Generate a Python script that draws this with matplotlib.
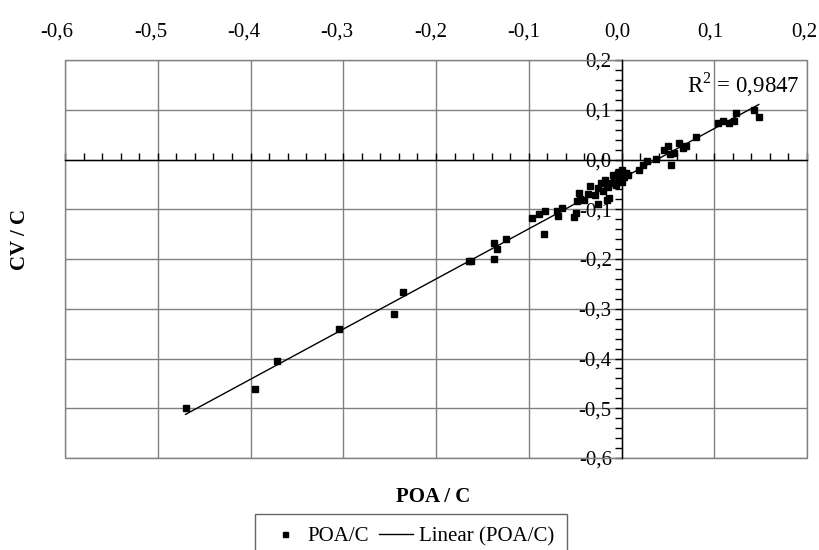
import matplotlib
matplotlib.use("Agg")
import matplotlib.pyplot as plt
import numpy as np
from matplotlib.patches import Rectangle
from matplotlib.ticker import FuncFormatter, MultipleLocator

# POA/C (x) and CV/C (y) values
poa = [
    -0.470, -0.395, -0.371, -0.305, -0.245, -0.236, -0.164, -0.162, -0.138,
    -0.134, -0.125, -0.137, -0.096, -0.089, -0.083, -0.070, -0.068, -0.084,
    -0.064, -0.051, -0.049, -0.048, -0.046, -0.045, -0.040, -0.036, -0.034,
    -0.029, -0.025, -0.025, -0.022, -0.020, -0.018, -0.016, -0.015, -0.013,
    -0.011, -0.009, -0.008, -0.006, -0.004, -0.002, 0.000, 0.001, 0.003,
    0.005, 0.007, 0.019, 0.023, 0.027, 0.037, 0.046, 0.050, 0.052, 0.057,
    0.053, 0.062, 0.066, 0.070, 0.080, 0.104, 0.109, 0.116, 0.121, 0.123,
    0.143, 0.148,
]
cv = [
    -0.500, -0.461, -0.405, -0.340, -0.311, -0.266, -0.204, -0.205, -0.168,
    -0.180, -0.159, -0.200, -0.117, -0.109, -0.103, -0.103, -0.113, -0.150,
    -0.097, -0.115, -0.107, -0.083, -0.068, -0.080, -0.081, -0.070, -0.053,
    -0.071, -0.089, -0.058, -0.048, -0.063, -0.041, -0.081, -0.055, -0.078,
    -0.048, -0.031, -0.038, -0.051, -0.028, -0.041, -0.045, -0.021, -0.035,
    -0.028, -0.032, -0.021, -0.011, -0.004, 0.002, 0.019, 0.027, 0.012, 0.014,
    -0.011, 0.034, 0.024, 0.027, 0.046, 0.074, 0.078, 0.074, 0.077, 0.093,
    0.099, 0.085,
]
r2_label = "R$^2$ = 0,9847"

plt.rcParams["font.family"] = ["Liberation Serif", "DejaVu Serif"]
plt.rcParams["font.size"] = 15
plt.rcParams["mathtext.fontset"] = "custom"
plt.rcParams["mathtext.rm"] = "Liberation Serif"

GRID = "#808080"
W, H = 819, 550


def comma(v, _pos=None):
    if abs(v) < 1e-9:
        v = 0.0
    return f"{v:.1f}".replace(".", ",")


fig = plt.figure(figsize=(W / 100, H / 100), dpi=100)
ax = fig.add_axes([65 / W, 1 - 458 / H, 742 / W, 398 / H])

x = np.array(poa)
y = np.array(cv)
slope, intercept = np.polyfit(x, y, 1)
xs = np.array([x.min(), x.max()])

ax.plot(x, y, "s", color="black", ms=4, label="POA/C", zorder=4)
ax.plot(xs, slope * xs + intercept, color="black", lw=1, label="Linear (POA/C)", zorder=3)

ax.set_xlim(-0.6, 0.2)
ax.set_ylim(-0.6, 0.2)
ax.xaxis.set_major_locator(MultipleLocator(0.1))
ax.yaxis.set_major_locator(MultipleLocator(0.1))
ax.xaxis.set_minor_locator(MultipleLocator(0.02))
ax.yaxis.set_minor_locator(MultipleLocator(0.02))
ax.grid(True, which="major", color=GRID, lw=1)
ax.set_axisbelow(True)

ax.spines["left"].set_position(("data", 0))
ax.spines["bottom"].set_position(("data", 0))
ax.spines["top"].set_visible(False)
ax.spines["right"].set_visible(False)
for s in ("left", "bottom"):
    ax.spines[s].set_linewidth(1)
    ax.spines[s].set_zorder(2)

ax.tick_params(axis="x", which="both", direction="in", length=5, width=1,
               labelbottom=False)
ax.tick_params(axis="y", which="both", direction="out", length=5, width=1, pad=2)
ax.yaxis.set_major_formatter(FuncFormatter(comma))

ax.add_patch(Rectangle((0, 0), 1, 1, transform=ax.transAxes, fill=False,
                       edgecolor=GRID, lw=1, clip_on=False, zorder=1))

# top value labels sit on their own scale, a touch left of the gridlines
top = fig.add_axes([57 / W, 1 - 458 / H, 747 / W, 398 / H], zorder=-1)
top.set_xlim(-0.6, 0.2)
top.patch.set_visible(False)
for s in top.spines.values():
    s.set_visible(False)
top.set_yticks([])
top.xaxis.set_major_locator(MultipleLocator(0.1))
top.xaxis.set_major_formatter(FuncFormatter(comma))
top.tick_params(axis="x", length=0, pad=13, labeltop=True, labelbottom=False)

ax.text(0.1925, 0.15, r2_label, ha="right", va="center", fontsize=16.5)

fig.text(20 / W, 1 - 240 / H, "CV / C", rotation=90, ha="center",
         va="center", fontweight="bold")
fig.text(433 / W, 1 - 497 / H, "POA / C", ha="center", va="center",
         fontweight="bold")

leg = ax.legend(loc="upper center", bbox_to_anchor=(411 / W, 1 - 514 / H),
                bbox_transform=fig.transFigure, ncol=2, frameon=True,
                fancybox=False, edgecolor="#404040", handlelength=1.6,
                columnspacing=0.5, handletextpad=0.3, borderpad=0.6,
                borderaxespad=0, markerscale=0.9)
leg.get_frame().set_linewidth(1)

fig.savefig("out.png", dpi=100)
